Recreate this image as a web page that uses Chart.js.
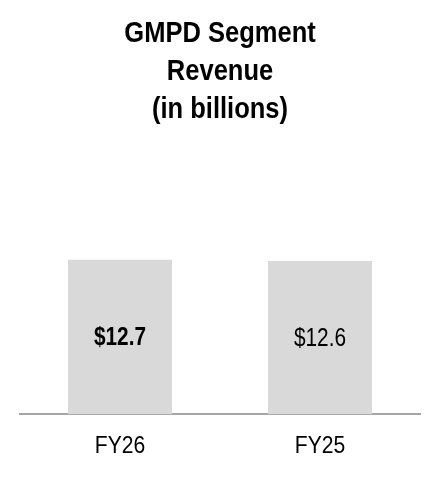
<!DOCTYPE html>
<html>
<head>
<meta charset="utf-8">
<script src="https://cdn.jsdelivr.net/npm/chart.js@4"></script>
<style>
  html, body { margin: 0; padding: 0; background: #ffffff; }
  #wrap { position: relative; width: 440px; height: 480px; }
</style>
</head>
<body>
<div id="wrap"><canvas id="c" width="440" height="480"></canvas></div>
<script>
const categories = ['FY26', 'FY25'];
const revenue = [12.7, 12.6];
const valueLabels = ['$12.7', '$12.6'];
const titleLines = ['GMPD Segment', 'Revenue', '(in billions)'];

const FONT = '"Liberation Sans", Arial, sans-serif';
const NARROW = 0.88;      // horizontal squeeze to mimic a narrow sans face
const VALUE_NARROW = 0.8;

const origFillText = CanvasRenderingContext2D.prototype.fillText;

// Draw all chart text slightly condensed (still real canvas text)
const narrowTextPlugin = {
  id: 'narrowText',
  beforeDraw(chart) {
    chart.ctx.fillText = function (t, x, y, mw) {
      this.save();
      this.translate(x, y);
      this.scale(NARROW, 1);
      origFillText.call(this, t, 0, 0);
      this.restore();
    };
  },
  afterDraw(chart) {
    delete chart.ctx.fillText;
  }
};

const valueLabelPlugin = {
  id: 'valueLabels',
  afterDatasetsDraw(chart) {
    const ctx = chart.ctx;
    const meta = chart.getDatasetMeta(0);
    ctx.save();
    ctx.textAlign = 'center';
    ctx.textBaseline = 'middle';
    ctx.fillStyle = '#000000';
    meta.data.forEach((bar, i) => {
      ctx.font = (i === 0 ? 'bold ' : '') + '26px ' + FONT;
      const yMid = (bar.y + bar.base) / 2 + 1;
      ctx.save();
      ctx.translate(bar.x, yMid);
      ctx.scale(VALUE_NARROW, 1);
      origFillText.call(ctx, valueLabels[i], 0, 0);
      ctx.restore();
    });
    ctx.restore();
  }
};

new Chart(document.getElementById('c'), {
  type: 'bar',
  data: {
    labels: categories,
    datasets: [{
      data: revenue,
      backgroundColor: '#d9d9d9',
      borderWidth: 0,
      barPercentage: 0.52,
      categoryPercentage: 1.0
    }]
  },
  options: {
    responsive: false,
    animation: false,
    devicePixelRatio: 1,
    layout: { padding: { left: 20, right: 20, top: 0, bottom: 1 } },
    plugins: {
      legend: { display: false },
      tooltip: { enabled: false },
      title: {
        display: true,
        text: titleLines,
        color: '#000000',
        font: { family: FONT, size: 29, weight: 'bold', lineHeight: 1.31 },
        padding: { top: 15, bottom: 16 }
      }
    },
    scales: {
      x: {
        grid: { display: false, drawTicks: false },
        border: { display: true, color: '#a6a6a6', width: 2 },
        ticks: { color: '#000000', font: { family: FONT, size: 24 }, padding: 18 }
      },
      y: {
        display: false,
        min: 0,
        max: 22.15
      }
    }
  },
  plugins: [narrowTextPlugin, valueLabelPlugin]
});
</script>
</body>
</html>
